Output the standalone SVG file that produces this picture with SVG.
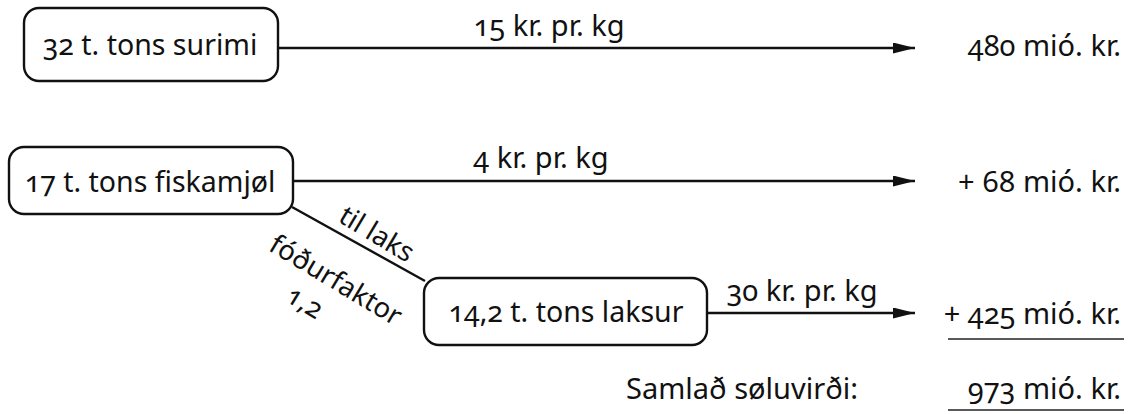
<svg xmlns="http://www.w3.org/2000/svg" width="1141" height="414" viewBox="0 0 1141 414">
  <style>
    text { font-family: "Noto Sans", "Open Sans", sans-serif; fill: #111; font-variant-numeric: oldstyle-nums; font-feature-settings: "onum" 1; }
    .node rect { fill: #fff; stroke: #111; stroke-width: 2.4; }
    .big { font-size: 28.5px; text-anchor: middle; }
    .lbl { font-size: 29px; text-anchor: middle; }
    .rot { font-size: 27.5px; text-anchor: middle; }
    .val { font-size: 29px; text-anchor: end; }
    .lining { font-variant-numeric: lining-nums; font-feature-settings: "lnum" 1; }
    .edge { stroke: #111; stroke-width: 2.4; fill: none; }
    .rule { stroke: #222; stroke-width: 1.6; }
  </style>
  <defs>
    <marker id="arrow" viewBox="0 0 22 11" refX="22" refY="5.5" markerWidth="22" markerHeight="11" markerUnits="userSpaceOnUse" orient="auto">
      <path d="M0,0 L22,5.5 L0,11 Z" fill="#111"/>
    </marker>
  </defs>

  <rect width="1141" height="414" fill="#fff"/>

  <!-- connectors -->
  <g id="connectors">
    <line class="edge" x1="278" y1="48" x2="915" y2="48" marker-end="url(#arrow)"/>
    <line class="edge" x1="293" y1="181" x2="915" y2="181" marker-end="url(#arrow)"/>
    <line class="edge" x1="292" y1="207" x2="425" y2="281"/>
    <line class="edge" x1="707" y1="313" x2="915" y2="313" marker-end="url(#arrow)"/>
    <text class="lbl" x="549" y="36">15 kr. pr. kg</text>
    <text class="lbl" x="541" y="168">4 kr. pr. kg</text>
    <text class="lbl" x="802" y="301">30 kr. pr. kg</text>
    <text class="rot" transform="translate(372,242) rotate(31)">til laks</text>
    <text class="rot" transform="translate(331,288) rotate(31)">fóðurfaktor</text>
    <text class="rot" transform="translate(300,310) rotate(31)">1,2</text>
  </g>

  <!-- nodes -->
  <g id="surimi" class="node">
    <rect x="24" y="8" width="254" height="73" rx="15"/>
    <text class="big" x="150" y="55">32 t. tons surimi</text>
  </g>
  <g id="fiskamjol" class="node">
    <rect x="9" y="147" width="284" height="67" rx="15"/>
    <text class="big" x="150" y="192">17 t. tons fiskamjøl</text>
  </g>
  <g id="laksur" class="node">
    <rect x="424" y="278" width="283" height="67" rx="15"/>
    <text class="big" x="566" y="322">14,2 t. tons laksur</text>
  </g>

  <!-- values -->
  <g id="values">
    <text class="val" x="1121" y="56">480 mió. kr.</text>
    <text class="val lining" x="1121" y="192">+ 68 mió. kr.</text>
    <text class="val" x="1121" y="324">+ 425 mió. kr.</text>
    <line class="rule" x1="948" y1="339" x2="1124" y2="339"/>
    <text class="val" x="858" y="399">Samlað søluvirði:</text>
    <text class="val" x="1121" y="399">973 mió. kr.</text>
    <line class="rule" x1="948" y1="410" x2="1124" y2="410"/>
  </g>
</svg>
